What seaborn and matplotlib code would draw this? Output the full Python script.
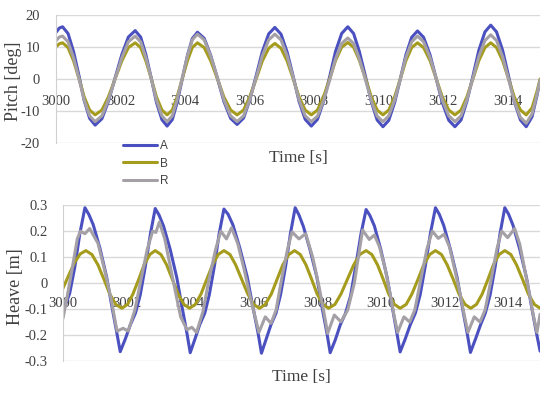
import numpy as np
import matplotlib
matplotlib.use("Agg")
import matplotlib.pyplot as plt
import seaborn as sns

# time origin, all time values are seconds after it
T0 = 3000

# ---- pitch (deg), all three series read at the same instants
pitch_t = [0.0, 0.1,
           0.2, 0.37, 0.54, 0.71, 0.87, 1.04,
           1.21, 1.42, 1.62, 1.83, 2.04, 2.24,
           2.45, 2.62, 2.78, 2.95, 3.11, 3.28,
           3.44, 3.60, 3.75, 3.91, 4.07, 4.22,
           4.38, 4.59, 4.79, 5.0, 5.2, 5.41,
           5.61, 5.81, 6.0, 6.2, 6.39, 6.59,
           6.78, 6.97, 7.16, 7.35, 7.53, 7.72,
           7.91, 8.10, 8.29, 8.48, 8.66, 8.85,
           9.04, 9.22, 9.40, 9.59, 9.77, 9.95,
           10.13, 10.31, 10.49, 10.67, 10.84, 11.02,
           11.2, 11.39, 11.59, 11.78, 11.97, 12.17,
           12.36, 12.55, 12.73, 12.92, 13.1, 13.29,
           13.47, 13.65, 13.84, 14.02, 14.2, 14.39,
           14.57, 14.75, 14.9, 15.0]

pitch_a = [14.6, 15.9,
           16.3, 14.2, 8.6, 1.0, -6.7, -12.3,
           -14.4, -12.4, -7.0, 0.4, 7.7, 13.1,
           15.1, 13.1, 7.7, 0.2, -7.3, -12.7,
           -14.7, -12.7, -7.4, 0.0, 7.3, 12.6,
           14.6, 12.7, 7.4, 0.2, -7.0, -12.3,
           -14.2, -12.2, -6.6, 1.0, 8.5, 14.1,
           16.1, 14.0, 8.4, 0.7, -7.0, -12.6,
           -14.7, -12.6, -7.0, 0.8, 8.6, 14.2,
           16.3, 14.2, 8.5, 0.7, -7.1, -12.8,
           -14.9, -12.9, -7.4, 0.1, 7.5, 13.0,
           15.0, 13.0, 7.5, 0.1, -7.4, -12.9,
           -14.9, -12.8, -7.0, 1.0, 8.9, 14.7,
           16.8, 14.7, 8.9, 1.0, -7.0, -12.8,
           -14.9, -11.8, -5.3, -0.3]

pitch_b = [10.1, 11.0,
           11.3, 9.8, 5.7, 0.1, -5.6, -9.7,
           -11.2, -9.7, -5.6, 0.1, 5.7, 9.8,
           11.3, 9.8, 5.7, 0.1, -5.6, -9.7,
           -11.2, -9.7, -5.6, 0.1, 5.7, 9.8,
           11.3, 9.8, 5.7, 0.1, -5.6, -9.7,
           -11.2, -9.7, -5.6, 0.0, 5.6, 9.6,
           11.1, 9.6, 5.6, 0.0, -5.6, -9.7,
           -11.2, -9.7, -5.5, 0.1, 5.8, 9.9,
           11.4, 9.9, 5.8, 0.1, -5.6, -9.7,
           -11.2, -9.7, -5.6, 0.1, 5.7, 9.8,
           11.3, 9.8, 5.7, 0.1, -5.6, -9.7,
           -11.2, -9.7, -5.6, 0.1, 5.7, 9.8,
           11.3, 9.8, 5.7, 0.1, -5.6, -9.7,
           -11.2, -9.0, -4.0, 0.0]

pitch_r = [12.0, 13.1,
           13.4, 11.6, 6.7, 0.1, -6.6, -11.5,
           -13.3, -11.5, -6.6, 0.1, 6.7, 11.6,
           13.4, 11.6, 6.7, 0.1, -6.6, -11.5,
           -13.3, -11.5, -6.5, 0.4, 7.2, 12.2,
           14.0, 12.2, 7.2, 0.4, -6.5, -11.5,
           -13.3, -11.5, -6.5, 0.4, 7.2, 12.2,
           14.0, 12.2, 7.2, 0.4, -6.5, -11.5,
           -13.3, -11.6, -6.8, -0.3, 6.3, 11.1,
           12.8, 11.1, 6.3, -0.3, -6.8, -11.6,
           -13.3, -11.5, -6.6, 0.1, 6.7, 11.6,
           13.4, 11.6, 6.7, 0.1, -6.6, -11.5,
           -13.3, -11.5, -6.5, 0.3, 7.0, 12.0,
           13.8, 12.0, 6.9, 0.0, -6.9, -12.0,
           -13.8, -10.9, -4.9, -0.3]

# ---- heave (m), each series read at its own instants
heave_a_t = [0.0, 0.21, 0.37, 0.53, 0.69,
             0.81, 0.95, 1.16, 1.37, 1.53, 1.69, 1.8,
             1.96, 2.12, 2.28, 2.43, 2.59, 2.75, 2.9,
             3.02, 3.16, 3.37, 3.58, 3.74, 3.9, 4.0,
             4.15, 4.3, 4.46, 4.6, 4.76, 4.91, 5.06,
             5.19, 5.34, 5.56, 5.79, 5.96, 6.13, 6.24,
             6.39, 6.54, 6.7, 6.84, 7.0, 7.15, 7.3,
             7.42, 7.56, 7.77, 7.98, 8.14, 8.3, 8.4,
             8.56, 8.72, 8.88, 9.04, 9.2, 9.37, 9.53,
             9.65, 9.79, 9.99, 10.19, 10.35, 10.5, 10.6,
             10.76, 10.92, 11.08, 11.23, 11.39, 11.55, 11.71,
             11.83, 11.97, 12.18, 12.39, 12.55, 12.71, 12.81,
             12.97, 13.13, 13.28, 13.43, 13.59, 13.74, 13.89,
             14.01, 14.15, 14.36, 14.57, 14.73, 14.89, 15.0]

heave_a = [-0.11, -0.04, 0.06, 0.19, 0.29,
           0.265, 0.225, 0.135, 0.025, -0.085, -0.19, -0.264,
           -0.215, -0.16, -0.115, -0.045, 0.065, 0.19, 0.287,
           0.262, 0.22, 0.13, 0.02, -0.09, -0.195, -0.268,
           -0.215, -0.16, -0.115, -0.045, 0.065, 0.19, 0.285,
           0.265, 0.225, 0.135, 0.025, -0.085, -0.19, -0.27,
           -0.215, -0.16, -0.115, -0.045, 0.065, 0.19, 0.29,
           0.262, 0.217, 0.127, 0.024, -0.09, -0.194, -0.268,
           -0.219, -0.16, -0.117, -0.05, 0.063, 0.19, 0.283,
           0.26, 0.22, 0.13, 0.022, -0.09, -0.194, -0.265,
           -0.215, -0.16, -0.115, -0.045, 0.065, 0.19, 0.29,
           0.265, 0.222, 0.13, 0.022, -0.09, -0.195, -0.267,
           -0.215, -0.16, -0.115, -0.045, 0.065, 0.19, 0.29,
           0.265, 0.222, 0.13, 0.022, -0.09, -0.195, -0.262]

heave_b_t = [0.0, 0.18, 0.36, 0.54,
             0.72, 0.91, 1.10, 1.29, 1.47, 1.66,
             1.85, 2.03, 2.2, 2.38, 2.55, 2.73,
             2.9, 3.08, 3.26, 3.44, 3.62, 3.8,
             3.98, 4.16, 4.34, 4.52, 4.7, 4.88,
             5.06, 5.25, 5.43, 5.62, 5.81, 5.99,
             6.18, 6.36, 6.55, 6.73, 6.91, 7.1,
             7.28, 7.46, 7.64, 7.82, 7.99, 8.17,
             8.35, 8.55, 8.74, 8.94, 9.14, 9.33,
             9.53, 9.71, 9.89, 10.07, 10.24, 10.42,
             10.6, 10.79, 10.97, 11.16, 11.34, 11.53,
             11.71, 11.9, 12.08, 12.27, 12.45, 12.64,
             12.82, 13.0, 13.18, 13.36, 13.53, 13.71,
             13.89, 14.08, 14.26, 14.45, 14.63, 14.82,
             15.0]

heave_b = [-0.02, 0.03, 0.078, 0.112,
           0.125, 0.11, 0.07, 0.014, -0.042, -0.082,
           -0.097, -0.082, -0.042, 0.014, 0.07, 0.11,
           0.125, 0.11, 0.07, 0.014, -0.042, -0.082,
           -0.097, -0.082, -0.042, 0.014, 0.07, 0.11,
           0.125, 0.11, 0.07, 0.014, -0.042, -0.082,
           -0.097, -0.082, -0.042, 0.014, 0.07, 0.11,
           0.125, 0.11, 0.07, 0.014, -0.042, -0.082,
           -0.097, -0.082, -0.042, 0.014, 0.07, 0.11,
           0.125, 0.11, 0.07, 0.014, -0.042, -0.082,
           -0.097, -0.082, -0.042, 0.014, 0.07, 0.11,
           0.125, 0.11, 0.07, 0.014, -0.042, -0.082,
           -0.097, -0.082, -0.042, 0.014, 0.07, 0.11,
           0.125, 0.11, 0.07, 0.014, -0.042, -0.082,
           -0.097]

heave_r_t = [0.0, 0.15, 0.3, 0.45, 0.55, 0.69, 0.84,
             1.1, 1.31, 1.52, 1.6, 1.7, 1.89, 2.05,
             2.26, 2.47, 2.65, 2.82, 2.92, 3.03,
             3.2, 3.38, 3.58, 3.7, 3.9, 4.05, 4.2,
             4.4, 4.6, 4.8, 4.96, 5.14, 5.3,
             5.5, 5.7, 5.9, 6.04, 6.16, 6.36, 6.54,
             6.7, 6.88, 7.06, 7.2, 7.42, 7.63,
             7.85, 8.05, 8.21, 8.32, 8.53, 8.74,
             8.95, 9.16, 9.32, 9.42, 9.63, 9.79,
             9.95, 10.12, 10.3, 10.4, 10.52, 10.72, 10.9,
             11.06, 11.26, 11.44, 11.61, 11.8, 11.98,
             12.15, 12.32, 12.5, 12.61, 12.73, 12.93, 13.11,
             13.27, 13.47, 13.64, 13.79, 13.98, 14.2,
             14.36, 14.52, 14.68, 14.78, 14.9, 15.0]

heave_r = [-0.136, -0.04, 0.063, 0.17, 0.2, 0.19, 0.21,
           0.153, 0.05, -0.065, -0.12, -0.185, -0.174, -0.185,
           -0.104, 0.024, 0.13, 0.2, 0.195, 0.235,
           0.17, 0.06, -0.06, -0.13, -0.18, -0.17, -0.19,
           -0.11, 0.02, 0.13, 0.2, 0.17, 0.213,
           0.15, 0.05, -0.06, -0.13, -0.19, -0.13, -0.155,
           -0.104, 0.02, 0.13, 0.197, 0.17, 0.19,
           0.10, -0.014, -0.117, -0.194, -0.123, -0.149,
           -0.104, 0.0, 0.127, 0.204, 0.168, 0.185,
           0.14, 0.06, -0.05, -0.12, -0.19, -0.13, -0.15,
           -0.104, 0.02, 0.13, 0.2, 0.172, 0.188,
           0.14, 0.05, -0.05, -0.12, -0.19, -0.13, -0.15,
           -0.104, 0.02, 0.13, 0.2, 0.175, 0.21,
           0.15, 0.05, -0.05, -0.12, -0.19, -0.12]

x_ticks = [3000, 3002, 3004, 3006, 3008, 3010, 3012, 3014]
x_tick_labels = ['3000', '3002', '3004', '3006', '3008', '3010', '3012', '3014']
pitch_ticks = [-20, -10, 0, 10, 20]
pitch_tick_labels = ['-20', '-10', '0', '10', '20']
heave_ticks = [-0.3, -0.2, -0.1, 0, 0.1, 0.2, 0.3]
heave_tick_labels = ['-0.3', '-0.2', '-0.1', '0', '0.1', '0.2', '0.3']

colors = {'A': '#4b50c0', 'B': '#a59c1e', 'R': '#a4a0a6'}
text_color = '#404040'
line_kw = dict(lw=2.2, solid_joinstyle='round', solid_capstyle='round')

sns.set_style("white")
plt.rcParams['font.family'] = ['Liberation Serif', 'DejaVu Serif']

fig = plt.figure(figsize=(5.5, 3.93), dpi=100)
ax1 = fig.add_axes([0.102, 0.636, 0.880, 0.326])
ax2 = fig.add_axes([0.1145, 0.0814, 0.8675, 0.3966])

# draw series
pt = T0 + np.array(pitch_t)
sns.lineplot(x=pt, y=pitch_a, ax=ax1, color=colors['A'], label='A', **line_kw)
sns.lineplot(x=pt, y=pitch_b, ax=ax1, color=colors['B'], label='B', **line_kw)
sns.lineplot(x=pt, y=pitch_r, ax=ax1, color=colors['R'], label='R', **line_kw)

sns.lineplot(x=T0 + np.array(heave_a_t), y=heave_a, ax=ax2, color=colors['A'], **line_kw)
sns.lineplot(x=T0 + np.array(heave_b_t), y=heave_b, ax=ax2, color=colors['B'], **line_kw)
sns.lineplot(x=T0 + np.array(heave_r_t), y=heave_r, ax=ax2, color=colors['R'], **line_kw)


def style_axes(ax, yticks, ylabels, ylim, name, xpad, ypad, name_x, xlab_y):
    ax.set_xlim(3000, 3015)
    ax.set_ylim(*ylim)
    ax.set_xticks(x_ticks)
    ax.set_xticklabels(x_tick_labels)
    ax.set_yticks(yticks)
    ax.set_yticklabels(ylabels)
    ax.set_xlabel('')
    ax.set_ylabel('')
    ax.grid(axis='y', color='#d9d9d9', lw=1)
    ax.grid(axis='x', visible=False)
    ax.set_axisbelow(True)
    for s in ['top', 'right']:
        ax.spines[s].set_visible(False)
    ax.spines['left'].set_color('#d0d0d0')
    ax.spines['bottom'].set_position(('data', 0))
    ax.spines['bottom'].set_visible(False)
    ax.tick_params(axis='both', length=0, labelsize=10.5, colors=text_color)
    ax.tick_params(axis='x', pad=xpad)
    ax.tick_params(axis='y', pad=ypad)
    ax.text(name_x, 0.48, name, transform=ax.transAxes, rotation=90,
            ha='center', va='center', fontsize=13, color=text_color)
    ax.text(0.5, xlab_y, 'Time [s]', transform=ax.transAxes,
            ha='center', va='center', fontsize=12.5, color=text_color)


style_axes(ax1, pitch_ticks, pitch_tick_labels, (-20, 20), 'Pitch [deg]',
           11.3, 11.5, -0.088, -0.117)
style_axes(ax2, heave_ticks, heave_tick_labels, (-0.3, 0.3), 'Heave [m]',
           10.2, 10.8, -0.1, -0.103)

ax1.legend(loc='upper left', bbox_to_anchor=(0.2236, 0.644), bbox_transform=fig.transFigure,
           frameon=False, borderpad=0, borderaxespad=0, handlelength=2.9,
           handletextpad=0.25, labelspacing=0.48,
           prop={'family': 'Liberation Sans', 'size': 8.5}, labelcolor=text_color)

fig.savefig('out.png', dpi=100)
